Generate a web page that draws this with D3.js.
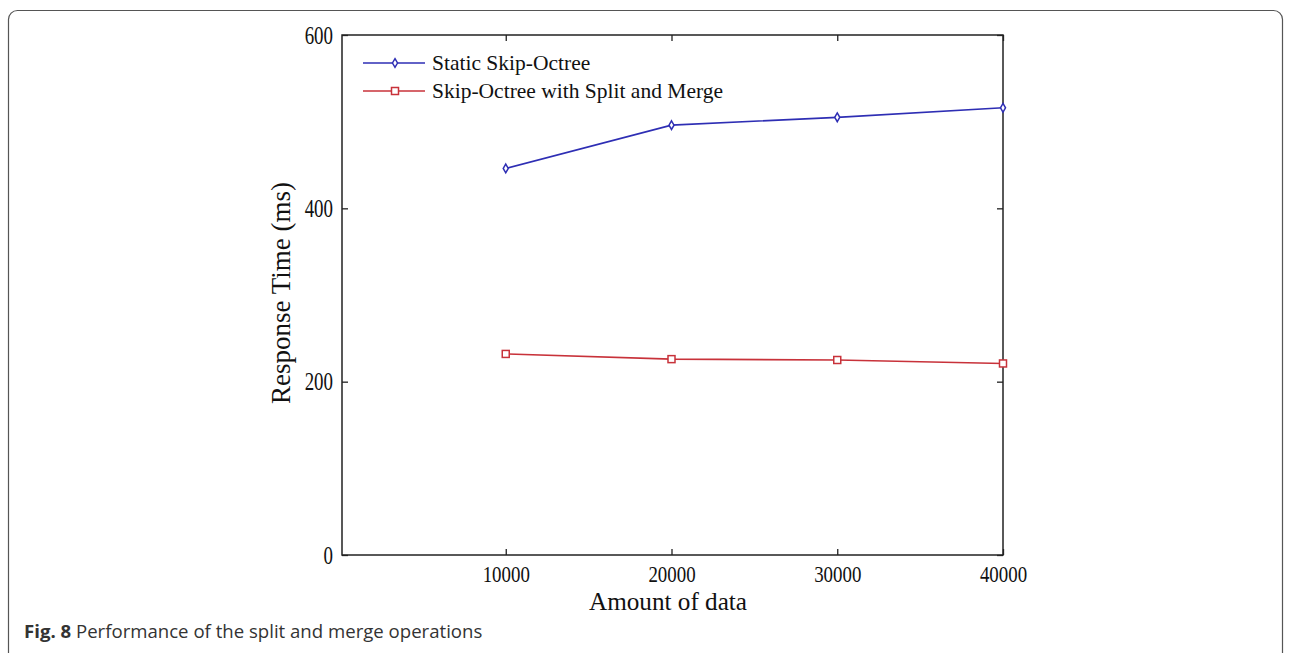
<!DOCTYPE html>
<html>
<head>
<meta charset="utf-8">
<script src="https://cdn.jsdelivr.net/npm/d3@7"></script>
<style>
  body { margin: 0; background: #fff; }
  svg { display: block; }
</style>
</head>
<body>
<svg width="1290" height="653"></svg>
<script>
var amounts = [10000, 20000, 30000, 40000];
var staticTimes = [446, 496, 505, 516];
var splitMergeTimes = [232, 226, 225, 221];
var xTicks = [10000, 20000, 30000, 40000];
var yTicks = [0, 200, 400, 600];
var seriesNames = ["Static Skip-Octree", "Skip-Octree with Split and Merge"];

var svg = d3.select("svg"),
    width = +svg.attr("width"),
    height = +svg.attr("height");

// outer frame of the figure
svg.append("rect")
    .attr("x", 8.5).attr("y", 10.5)
    .attr("width", 1274).attr("height", 660)
    .attr("rx", 9)
    .attr("fill", "none")
    .attr("stroke", "#555")
    .attr("stroke-width", 1.2);

var plotL = 342, plotR = 1003, plotT = 35, plotB = 555;

var x = d3.scaleLinear().domain([0, 40000]).range([340, plotR]);
var y = d3.scaleLinear().domain([0, 600]).range([plotB, plotT]);

var font = "'Liberation Serif', 'Times New Roman', serif";

var g = svg.append("g");

// plot box
g.append("rect")
    .attr("x", plotL).attr("y", plotT)
    .attr("width", plotR - plotL).attr("height", plotB - plotT)
    .attr("fill", "none")
    .attr("stroke", "#222")
    .attr("stroke-width", 1.5);

// axes with inward ticks
var xAxisB = d3.axisBottom(x).tickValues(xTicks).tickSizeInner(-6).tickSizeOuter(0).tickFormat(d3.format("d"));
var xAxisT = d3.axisTop(x).tickValues(xTicks).tickSizeInner(-6).tickSizeOuter(0).tickFormat("");
var yAxisL = d3.axisLeft(y).tickValues(yTicks).tickSizeInner(-6).tickSizeOuter(0).tickFormat(d3.format("d"));
var yAxisR = d3.axisRight(y).tickValues(yTicks).tickSizeInner(-6).tickSizeOuter(0).tickFormat("");

function styleAxis(sel) {
  sel.select(".domain").remove();
  sel.selectAll(".tick line").attr("stroke", "#222").attr("stroke-width", 1.3);
  sel.selectAll(".tick text")
      .attr("fill", "#111")
      .attr("font-family", font)
      .attr("font-size", "21px");
}

g.append("g").attr("transform", "translate(0," + plotB + ")").call(xAxisB).call(styleAxis)
  .selectAll(".tick text")
    .attr("y", null).attr("dy", null)
    .attr("transform", "translate(0,27) scale(0.9,1.12)");
g.append("g").attr("transform", "translate(0," + plotT + ")").call(xAxisT).call(styleAxis);
g.append("g").attr("transform", "translate(" + plotL + ",0)").call(yAxisL).call(styleAxis)
  .selectAll(".tick text")
    .attr("x", null).attr("dy", null)
    .attr("transform", "translate(-9,8) scale(0.9,1.15)");
g.append("g").attr("transform", "translate(" + plotR + ",0)").call(yAxisR).call(styleAxis);

// axis titles
svg.append("text")
    .attr("transform", "translate(668,610) scale(1.05,1.08)")
    .attr("text-anchor", "middle")
    .attr("font-family", font)
    .attr("font-size", "24px")
    .attr("fill", "#111")
    .text("Amount of data");

svg.append("text")
    .attr("transform", "translate(290,293) rotate(-90) scale(1.08,1.1)")
    .attr("text-anchor", "middle")
    .attr("font-family", font)
    .attr("font-size", "25px")
    .attr("fill", "#111")
    .text("Response Time (ms)");

// series
var blue = "#2e2eb4", red = "#c8323a";

var line = d3.line()
    .x(function(d) { return x(d[0]); })
    .y(function(d) { return y(d[1]); });

var staticData = amounts.map(function(a, i) { return [a, staticTimes[i]]; });
var splitData = amounts.map(function(a, i) { return [a, splitMergeTimes[i]]; });

g.append("path").datum(staticData)
    .attr("d", line).attr("fill", "none")
    .attr("stroke", blue).attr("stroke-width", 1.6);
g.append("path").datum(splitData)
    .attr("d", line).attr("fill", "none")
    .attr("stroke", red).attr("stroke-width", 1.6);

var diamond = d3.symbol().type(d3.symbolDiamond).size(22);

g.selectAll(".dmk").data(staticData).enter().append("path")
    .attr("class", "dmk")
    .attr("d", diamond)
    .attr("transform", function(d) { return "translate(" + x(d[0]) + "," + y(d[1]) + ")"; })
    .attr("fill", "#fff").attr("stroke", blue).attr("stroke-width", 1.5);

g.selectAll(".smk").data(splitData).enter().append("rect")
    .attr("class", "smk")
    .attr("x", function(d) { return x(d[0]) - 3.5; })
    .attr("y", function(d) { return y(d[1]) - 3.5; })
    .attr("width", 7).attr("height", 7)
    .attr("fill", "#fff").attr("stroke", red).attr("stroke-width", 1.5);

// legend
var legend = svg.append("g").attr("transform", "translate(363,63)");
[blue, red].forEach(function(c, i) {
  var row = legend.append("g").attr("transform", "translate(0," + (i * 28) + ")");
  row.append("line").attr("x1", 0).attr("x2", 62).attr("y1", 0).attr("y2", 0)
      .attr("stroke", c).attr("stroke-width", 1.6);
  if (i === 0) {
    row.append("path").attr("d", diamond).attr("transform", "translate(32,0)")
        .attr("fill", "#fff").attr("stroke", c).attr("stroke-width", 1.5);
  } else {
    row.append("rect").attr("x", 28.5).attr("y", -3.5).attr("width", 7).attr("height", 7)
        .attr("fill", "#fff").attr("stroke", c).attr("stroke-width", 1.5);
  }
  row.append("text").attr("x", 69).attr("y", 7)
      .attr("font-family", font).attr("font-size", "21.5px").attr("fill", "#111")
      .text(seriesNames[i]);
});

// caption
var cap = svg.append("text")
    .attr("x", 24).attr("y", 638)
    .attr("font-family", "'Open Sans', sans-serif")
    .attr("font-size", "18.6px")
    .attr("fill", "#333");
cap.append("tspan").attr("font-weight", "bold").text("Fig. 8");
cap.append("tspan").text(" Performance of the split and merge operations");
</script>
</body>
</html>
